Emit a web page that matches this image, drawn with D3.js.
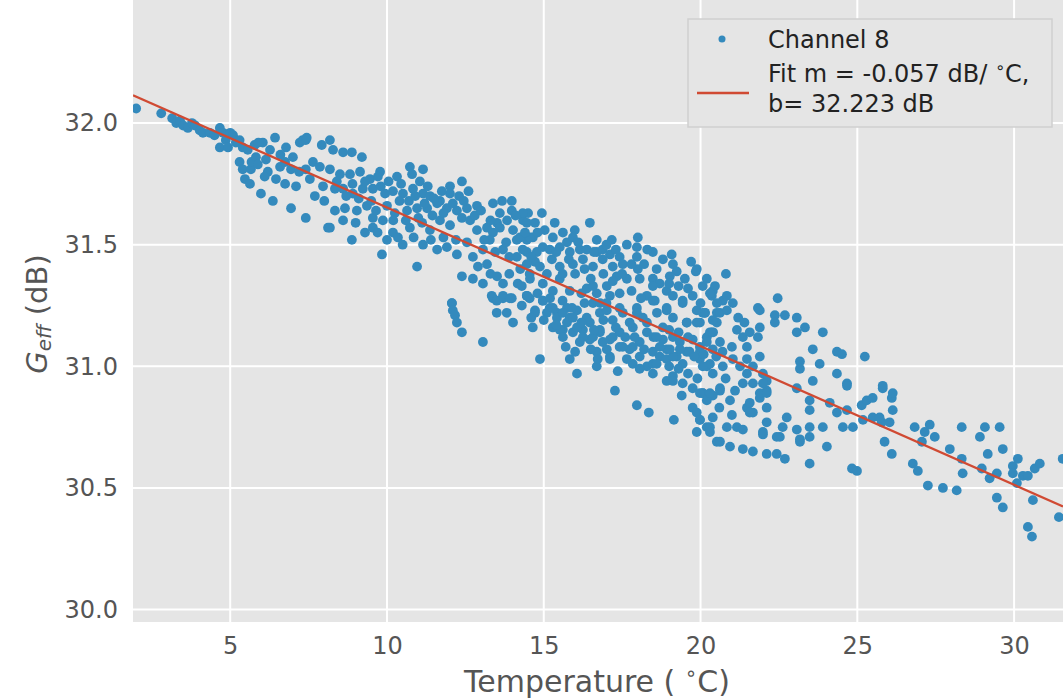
<!DOCTYPE html>
<html>
<head>
<meta charset="utf-8">
<script src="https://cdn.jsdelivr.net/npm/d3@7"></script>
<style>
  body { margin: 0; background: #fff; }
  svg { display: block; font-family: "DejaVu Sans", sans-serif; }
</style>
</head>
<body>
<div id="chart"></div>
<script>
// Axis setup
const xTicks = [5, 10, 15, 20, 25, 30];
const yTicks = [30.0, 30.5, 31.0, 31.5, 32.0];
const xDomain = [1.90, 31.56];
const yDomain = [29.949, 32.506];

// Linear fit given in the legend
const fitSlope = -0.057;
const fitIntercept = 32.223;

const seriesLabel = "Channel 8";

// Channel 8 measurements: [temperature (°C), G_eff (dB)]
const channel8 = [
  [2.0,32.06],[2.8,32.04],[3.15,32.02],[3.28,32.0],[3.4,32.01],[3.5,31.99],[3.65,31.98],[3.78,32.0],[3.88,31.99],
  [4.03,31.97],[4.13,31.96],[4.35,31.96],[4.5,31.95],[4.67,31.98],[4.77,31.96],[4.86,31.93],[5.0,31.96],[4.67,31.90],[4.93,31.90],
  [5.09,31.95],[5.18,31.92],[5.3,31.93],[5.4,31.90],[5.56,31.89],[5.78,31.91],[5.3,31.84],[5.4,31.81],[5.47,31.77],[5.63,31.75],
  [5.66,31.81],[5.68,31.84],[5.82,31.86],[5.88,31.83],[5.98,31.71],
  [6.04,31.92],[6.14,31.85],[6.2,31.80],[6.27,31.89],[6.36,31.68],[6.43,31.94],[6.46,31.77],[6.59,31.82],[6.75,31.75],[6.75,31.84],
  [6.78,31.90],[6.94,31.81],[6.94,31.65],[7.0,31.86],
  [7.1,31.74],[7.22,31.92],[7.31,31.93],[7.41,31.93],[7.44,31.94],[7.41,31.81],[7.41,31.61],[7.54,31.77],[7.64,31.84],[7.86,31.82],
  [7.92,31.91],[7.96,31.74],[8.0,31.68],[8.12,31.57],[8.18,31.93],
  [8.28,31.89],[8.60,31.88],[8.88,31.88],[9.20,31.86],[8.18,31.81],[8.50,31.79],[8.82,31.79],[9.14,31.80],[9.46,31.77],[9.78,31.80],
  [9.71,31.78],[10.32,31.78],[10.73,31.82],[10.80,31.79],[11.15,31.81],
  [8.34,31.73],[8.60,31.73],[8.91,31.71],[9.23,31.73],[9.55,31.73],[9.94,31.71],[10.19,31.72],[10.51,31.71],[10.83,31.73],[11.15,31.71],
  [11.37,31.70],[11.69,31.68],[12.01,31.74],[12.39,31.76],[12.01,31.71],
  [8.34,31.64],[8.66,31.65],[9.04,31.64],[9.36,31.66],[9.55,31.61],[9.87,31.60],[10.25,31.63],[10.64,31.64],[10.96,31.65],[11.28,31.65],
  [11.60,31.67],[11.91,31.65],[12.23,31.64],[12.55,31.65],[12.87,31.66],
  [8.18,31.57],[8.88,31.52],[9.55,31.57],[10.19,31.55],[10.35,31.53],[10.73,31.57],[11.12,31.59],[11.37,31.56],[11.69,31.60],[12.01,31.58],
  [12.39,31.61],[12.65,31.60],[12.87,31.56],[13.19,31.57],
  [13.38,31.67],[13.67,31.68],[13.98,31.68],[13.98,31.64],[13.60,31.63],[13.51,31.59],[13.83,31.60],[13.38,31.55],
  [9.84,31.46],[11.15,31.50],[10.96,31.41],[11.60,31.48],[11.91,31.49],[12.23,31.46],[12.55,31.51],[12.74,31.45],[13.06,31.48],[13.28,31.52],
  [13.19,31.42],[13.70,31.48],
  [14.02,31.56],[14.34,31.60],[14.50,31.63],[14.72,31.59],[14.14,31.52],[14.46,31.52],[14.65,31.53],[14.14,31.45],[14.46,31.47],[14.72,31.43],
  [12.39,31.37],[12.74,31.36],[13.06,31.34],[13.51,31.37],[13.70,31.34],[13.38,31.28],[13.70,31.28],[13.98,31.28],[14.17,31.34],[14.55,31.28],
  [12.07,31.26],[14.55,31.38],
  [14.33,31.63],[14.46,31.59],[14.24,31.53],[14.56,31.53],[14.94,31.63],[15.03,31.56],[15.35,31.59],[15.29,31.53],[15.61,31.55],[15.74,31.51],
  [15.99,31.56],[15.93,31.53],[16.47,31.59],[16.69,31.52],[17.17,31.52],[17.65,31.50],[18.0,31.53],[17.97,31.49],[18.48,31.47],[19.08,31.46],
  [19.12,31.42],[19.24,31.39],[19.02,31.37],[19.88,31.40],[19.50,31.36],
  [14.33,31.48],[14.78,31.47],[14.97,31.49],[15.19,31.48],[15.51,31.49],[15.83,31.47],[16.15,31.48],[16.37,31.48],[16.69,31.47],[16.88,31.48],
  [17.11,31.46],[17.42,31.45],
  [14.46,31.42],[14.88,31.41],[15.26,31.44],[15.51,31.41],[15.93,31.42],[16.25,31.44],[16.57,31.41],[16.88,31.44],[17.20,31.41],[17.52,31.42],
  [17.97,31.45],[18.0,31.40],
  [17.33,31.37],[17.65,31.36],[18.06,31.36],[18.48,31.36],[18.70,31.34],[18.92,31.31],[19.12,31.29],[19.43,31.27],[19.75,31.29],[20.07,31.33],
  [20.39,31.31],[19.88,31.23],[20.14,31.22],[20.52,31.22],[19.56,31.18],
  [18.48,31.33],[18.29,31.29],[18.54,31.27],[18.92,31.24],[18.61,31.22],[17.97,31.24],[17.42,31.24],[17.11,31.29],[16.69,31.30],[16.37,31.32],
  [15.83,31.31],[15.51,31.36],[15.29,31.31],[14.97,31.34],[14.56,31.36],[14.46,31.29],[14.72,31.23],[14.97,31.27],[15.19,31.24],[15.42,31.22],
  [15.74,31.24],[15.83,31.20],[16.06,31.23],[16.37,31.20],[16.57,31.26],[16.79,31.22],[17.01,31.23],[17.20,31.19],[17.52,31.22],[17.84,31.16],
  [18.16,31.20],[18.29,31.14],[18.80,31.16],[18.80,31.11],[19.12,31.12],[19.34,31.10],[19.75,31.11],[19.98,31.08],[20.20,31.12],[20.39,31.07],
  [15.29,31.16],[15.61,31.15],[15.93,31.14],[16.25,31.15],[16.47,31.11],[16.79,31.14],[17.11,31.11],[17.42,31.08],[17.74,31.07],[18.06,31.10],
  [18.48,31.06],[18.92,31.07],[19.24,31.04],[19.56,31.06],
  [14.65,31.16],[14.88,31.03],[15.83,31.03],[16.69,31.0],[16.06,30.97],[17.36,30.98],[17.84,31.01],[18.48,30.97],[19.12,30.96],[20.20,31.0],
  [16.69,31.06],[17.11,31.04],
  [12.07,31.26],[12.10,31.23],[12.17,31.21],[12.23,31.18],[12.39,31.14],[13.06,31.10],[17.27,30.90],[17.97,30.84],[18.35,30.81],[19.15,30.78],
  [13.34,31.29],[13.50,31.27],[13.70,31.29],[13.92,31.28],[13.50,31.22],[13.82,31.22],[14.02,31.18],[14.46,31.29],[14.72,31.22],[14.97,31.27],
  [15.10,31.22],[15.29,31.24],[15.42,31.20],[15.61,31.22],[15.74,31.18],[15.51,31.15],[15.61,31.12],[15.93,31.20],[16.06,31.16],[16.25,31.12],
  [16.15,31.10],[16.47,31.18],[16.57,31.12],[16.79,31.15],[16.88,31.10],[17.01,31.07],[16.72,31.03],[17.11,31.03],[17.20,31.12],[17.42,31.14],
  [17.52,31.08],[17.65,31.03],[17.84,31.08],[18.06,31.04],[18.29,31.0],[18.06,30.99],[18.48,31.01],[18.70,31.04],[18.92,31.03],[19.12,31.04],
  [19.43,31.01],[18.70,31.08],[19.02,31.07],[19.34,31.07],[19.65,31.06],[19.98,31.03],[20.30,31.01],[18.92,30.94],[19.12,30.94],[19.43,30.93],
  [19.75,30.91],[20.07,30.89],[20.39,30.88],[20.62,30.90],[19.75,30.83],[19.88,30.81],[19.98,30.78],[19.88,30.73],[20.20,30.75],[20.39,30.79],
  [20.52,30.69],[17.74,31.18],[17.97,31.22],[18.29,31.18],[18.48,31.27],[18.92,31.23],[19.12,31.20],[19.43,31.26],[19.56,31.18],[19.88,31.18],
  [20.07,31.22],[20.30,31.14],[20.52,31.18],[17.42,31.30],[17.01,31.33],[16.57,31.33],
  [20.81,31.38],[19.85,31.39],[20.46,31.33],[20.36,31.29],[20.71,31.27],[21.83,31.24],
  [20.30,31.30],[20.52,31.26],[20.84,31.29],[21.03,31.26],[20.14,31.22],[20.39,31.19],[20.62,31.22],[20.84,31.23],[19.98,31.18],[20.36,31.14],
  [20.62,31.10],[20.20,31.10],[19.98,31.06],[20.07,31.0],[20.39,30.97],[20.71,31.0],[21.03,31.03],[21.26,31.0],[21.48,30.97],[21.67,31.0],
  [21.99,30.97],[22.11,30.94],[21.89,31.04],[21.89,31.16],[21.89,31.23],[22.46,31.28],[22.37,31.21],[22.37,31.18],[22.69,31.21],[23.07,31.20],
  [23.07,31.14],[23.33,31.16],[23.90,31.14],[21.48,31.08],[21.48,31.03],
  [20.62,30.91],[20.94,30.86],[21.48,30.83],[21.67,30.81],[21.89,30.87],[22.11,30.90],[20.07,30.89],[20.20,30.86],[19.98,30.78],[20.30,30.75],
  [20.84,30.75],[21.16,30.75],[21.35,30.74],[21.99,30.73],[22.11,30.77],[22.62,30.75],[23.07,30.74],[23.48,30.75],[23.90,30.75],
  [22.53,30.71],[23.17,30.69],[23.48,30.71],[20.62,30.69],[20.94,30.67],[21.35,30.66],[21.67,30.65],[22.11,30.64],[22.43,30.64],[22.69,30.62],
  [23.48,30.60],[24.03,30.67],
  [23.17,31.02],[23.17,30.99],[23.58,31.07],[23.80,31.01],[23.58,30.94],[23.48,30.86],[23.48,30.82],[23.07,30.91],[22.75,30.79],[24.35,31.06],
  [24.51,31.05],[24.35,30.97],[24.67,30.93],[24.12,30.85],[24.35,30.81],[24.67,30.82],[24.54,30.75],[24.86,30.75],[25.18,30.78],[25.49,30.79],
  [25.78,30.77],[26.03,30.77],[25.24,31.04],[25.14,30.84],[25.30,30.86],[25.49,30.87],[25.81,30.91],[26.10,30.87],[26.13,30.82],[25.87,30.69],
  [26.10,30.64],[24.83,30.58],[24.99,30.57],[21.16,31.15],[21.35,31.12],[21.57,31.14],[21.83,31.12],
  [19.98,30.89],[20.30,30.89],[21.35,30.93],[21.67,30.93],[21.99,30.93],[21.89,30.89],[22.11,30.89],[21.57,30.85],[21.57,30.81],[22.11,30.83],
  [20.30,30.73],[21.99,30.72],[22.43,30.71],[23.17,30.70],[24.67,30.92],
  [25.81,30.92],[26.13,30.89],[25.71,30.79],[26.83,30.75],[27.15,30.73],[27.31,30.76],[27.47,30.71],[27.06,30.69],[26.77,30.60],[26.93,30.57],
  [27.25,30.51],[27.73,30.50],[28.17,30.49],[27.95,30.66],[28.33,30.75],[28.33,30.62],[28.36,30.56],[28.91,30.71],[29.07,30.75],[29.54,30.75],
  [29.64,30.66],[29.16,30.64],[28.97,30.58],[29.22,30.54],[29.45,30.56],[29.45,30.46],[29.64,30.42],[29.96,30.59],[30.12,30.62],[29.96,30.56],
  [30.09,30.52],[30.28,30.55],[30.44,30.55],[30.66,30.58],[30.82,30.60],[30.60,30.45],[30.44,30.34],[30.57,30.30],[31.43,30.38],[31.55,30.62]
];

const channel8Dense = [
  [8.4,31.76],[8.7,31.70],[8.9,31.75],[9.1,31.69],[9.3,31.76],[9.5,31.68],[9.65,31.64],[9.8,31.74],[10.0,31.66],[10.05,31.76],
  [10.2,31.60],[10.4,31.68],[10.45,31.75],[10.6,31.60],[10.7,31.68],[10.9,31.70],[11.0,31.61],[11.05,31.76],[11.2,31.67],[11.3,31.74],
  [11.45,31.62],[11.5,31.69],[11.75,31.72],[11.8,31.63],[12.1,31.67],[12.3,31.70],[12.45,31.68],[12.6,31.72],[9.0,31.59],[9.3,31.55],
  [9.7,31.55],[10.0,31.52],[10.5,31.50],[10.85,31.53],[11.4,31.52],[11.8,31.53],[12.2,31.52],[8.6,31.60],[7.7,31.70],[7.2,31.80],
  [6.6,31.87],[6.1,31.78],[5.9,31.92],
  [12.8,31.62],[13.0,31.64],[13.1,31.52],[13.3,31.60],[13.45,31.47],[13.6,31.57],[13.8,31.51],[13.9,31.45],[14.1,31.62],[14.25,31.40],
  [14.4,31.55],[14.6,31.45],[14.8,31.55],[12.9,31.41],[13.3,31.38],[13.9,31.38],[14.3,31.33],
  [14.3,31.25],[14.6,31.20],[14.8,31.30],[15.0,31.19],[15.2,31.28],[15.4,31.17],[15.6,31.27],[15.7,31.08],[15.9,31.24],[16.0,31.06],
  [16.2,31.18],[16.3,31.26],[16.5,31.07],[16.6,31.15],[16.9,31.19],[17.0,31.26],[17.3,31.16],[17.6,31.12],[17.9,31.12],[18.2,31.07],
  [18.5,31.12],[18.6,31.01],[19.0,31.0],[19.3,30.99],
  [15.1,31.38],[15.4,31.47],[15.6,31.38],[15.8,31.44],[16.0,31.38],[16.1,31.51],[16.3,31.40],[16.5,31.36],[16.6,31.47],[16.9,31.38],
  [17.0,31.50],[17.3,31.48],[17.5,31.38],[17.8,31.42],[17.8,31.31],[18.2,31.42],[18.3,31.48],[18.6,31.40],[18.8,31.44],[19.0,31.34],
  [19.3,31.33],[19.6,31.32],[19.7,31.43],[20.0,31.26],[20.2,31.36],[18.1,31.28],[17.2,31.35],[16.8,31.26],[16.2,31.30],
  [18.6,31.12],[19.0,31.15],[19.3,31.14],[19.6,31.12],[19.8,31.04],[20.1,31.05],[20.5,31.04],[20.4,31.14],[20.7,31.06],[21.0,31.08],
  [21.2,31.20],[21.4,31.18],[19.6,30.97],[19.4,30.88],[19.9,30.95],[20.6,30.83],[21.0,30.80],[20.8,30.95],[21.1,30.90]
];

const width = 1063, height = 699;
const plot = {left: 133, right: 1063, top: 0, bottom: 622};

const svg = d3.select("#chart").append("svg")
  .attr("width", width)
  .attr("height", height);

const x = d3.scaleLinear().domain(xDomain).range([plot.left, plot.right]);
const y = d3.scaleLinear().domain(yDomain).range([plot.bottom, plot.top]);

svg.append("defs").append("clipPath").attr("id", "plot-clip")
  .append("rect")
    .attr("x", plot.left).attr("y", plot.top)
    .attr("width", plot.right - plot.left).attr("height", plot.bottom - plot.top);

// Panel background
svg.append("rect")
  .attr("x", plot.left).attr("y", plot.top)
  .attr("width", plot.right - plot.left).attr("height", plot.bottom - plot.top)
  .attr("fill", "#e5e5e5");

// Grid
svg.append("g").selectAll("line").data(xTicks).join("line")
  .attr("x1", d => x(d)).attr("x2", d => x(d))
  .attr("y1", plot.top).attr("y2", plot.bottom)
  .attr("stroke", "#fff").attr("stroke-width", 2);
svg.append("g").selectAll("line").data(yTicks).join("line")
  .attr("x1", plot.left).attr("x2", plot.right)
  .attr("y1", d => y(d)).attr("y2", d => y(d))
  .attr("stroke", "#fff").attr("stroke-width", 2);

// Axes (labels only, ggplot style)
const xAxis = svg.append("g")
  .attr("transform", `translate(0,${plot.bottom})`)
  .call(d3.axisBottom(x).tickValues(xTicks).tickSize(0).tickPadding(15));
const yAxis = svg.append("g")
  .attr("transform", `translate(${plot.left},0)`)
  .call(d3.axisLeft(y).tickValues(yTicks).tickFormat(d3.format(".1f")).tickSize(0).tickPadding(15));
[xAxis, yAxis].forEach(g => {
  g.select(".domain").remove();
  g.selectAll("text")
    .attr("fill", "#555")
    .style("font-size", "24px")
    .style("font-family", "DejaVu Sans, sans-serif");
});

// Points
const pts = svg.append("g").attr("clip-path", "url(#plot-clip)");
pts.selectAll("circle").data(channel8.concat(channel8Dense)).join("circle")
  .attr("cx", d => x(d[0]))
  .attr("cy", d => y(d[1]))
  .attr("r", 4.9)
  .attr("fill", "#348abd");

// Fit line
pts.append("line")
  .attr("x1", x(xDomain[0])).attr("y1", y(fitIntercept + fitSlope * xDomain[0]))
  .attr("x2", x(xDomain[1])).attr("y2", y(fitIntercept + fitSlope * xDomain[1]))
  .attr("stroke", "#d04a33").attr("stroke-width", 2.3);

// Axis labels
const xl = svg.append("text")
  .attr("x", 597).attr("y", 692)
  .attr("text-anchor", "middle")
  .attr("fill", "#555")
  .style("font-size", "30px");
xl.append("tspan").text("Temperature ( ");
xl.append("tspan").attr("baseline-shift", "super").style("font-size", "20px").text("\u2218");
xl.append("tspan").text("C)");

const yl = svg.append("text")
  .attr("transform", "translate(47,314) rotate(-90)")
  .attr("text-anchor", "middle")
  .attr("fill", "#555")
  .style("font-size", "29px");
yl.append("tspan").style("font-style", "italic").text("G");
yl.append("tspan").attr("baseline-shift", "-18%").style("font-style", "italic").style("font-size", "20px").text("eff");
yl.append("tspan").attr("baseline-shift", "0").text(" (dB)");

// Legend
const legend = svg.append("g");
legend.append("rect")
  .attr("x", 688).attr("y", 19).attr("width", 364).attr("height", 108)
  .attr("fill", "#e5e5e5").attr("stroke", "#cfcfcf").attr("stroke-width", 1.5);
legend.append("circle").attr("cx", 722).attr("cy", 39).attr("r", 3.5).attr("fill", "#348abd");
legend.append("line").attr("x1", 697).attr("x2", 749).attr("y1", 93).attr("y2", 93)
  .attr("stroke", "#d04a33").attr("stroke-width", 2.3);
const lt = legend.append("g").style("font-size", "24px").attr("fill", "#222");
lt.append("text").attr("x", 768).attr("y", 48).text(seriesLabel);
const fitText = lt.append("text").attr("x", 768).attr("y", 82);
fitText.append("tspan").text(`Fit m = ${fitSlope.toFixed(3)} dB/ `);
fitText.append("tspan").attr("baseline-shift", "super").style("font-size", "16px").text("\u2218");
fitText.append("tspan").text("C,");
lt.append("text").attr("x", 768).attr("y", 112).text(`b= ${fitIntercept.toFixed(3)} dB`);
</script>
</body>
</html>
